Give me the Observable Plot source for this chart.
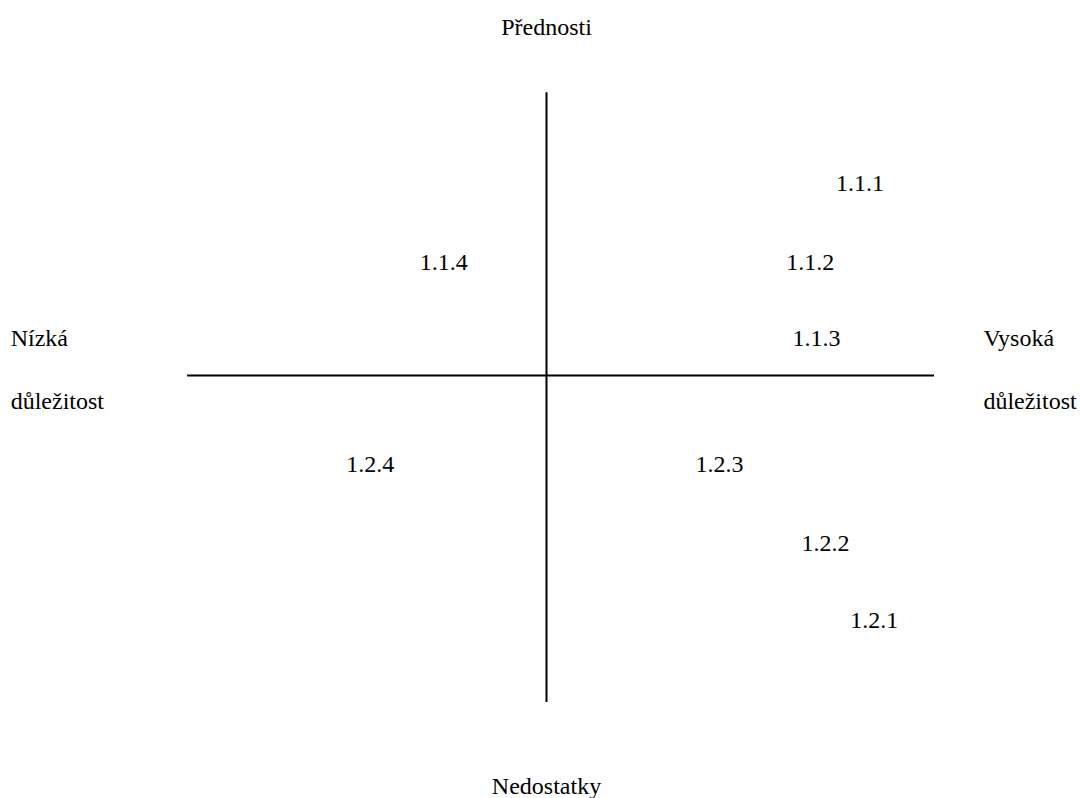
<!DOCTYPE html>
<html>
<head>
<meta charset="utf-8">
<script src="https://cdn.jsdelivr.net/npm/d3@7"></script>
<script src="https://cdn.jsdelivr.net/npm/@observablehq/plot@0.6"></script>
<style>
  html, body { margin: 0; padding: 0; background: #fff; }
  #chart svg { display: block; }
</style>
</head>
<body>
<div id="chart"></div>
<script>
// Items: label, importance (x), pros(+)/cons(-) (y)
const itemLabels = ["1.1.1", "1.1.2", "1.1.3", "1.1.4", "1.2.1", "1.2.2", "1.2.3", "1.2.4"];
const itemImportance = [8.08, 6.80, 6.96, -2.65, 8.45, 7.19, 4.46, -4.54];
const itemQuality = [5.89, 3.46, 1.15, 3.46, -7.49, -5.14, -2.72, -2.72];

// Axis extents
const importanceAxisExtent = [-9.25, 10];
const qualityAxisExtent = [-10, 8.65];

// Axis titles
const topTitle = "Přednosti";
const bottomTitle = "Nedostatky";
const leftTitle = ["Nízká", "důležitost"];
const rightTitle = ["Vysoká", "důležitost"];

const items = itemLabels.map((label, i) => ({label, x: itemImportance[i], y: itemQuality[i]}));

// pick an installed serif font
function available(name) {
  const c = document.createElement("canvas").getContext("2d");
  const s = "mmmmmmmmmmlliiWWŘžů1.2.3";
  return ["monospace", "sans-serif"].some(fb => {
    c.font = `40px ${fb}`;
    const w0 = c.measureText(s).width;
    c.font = `40px "${name}", ${fb}`;
    return c.measureText(s).width !== w0;
  });
}
const candidates = ["Liberation Serif", "Times New Roman", "Tinos", "Nimbus Roman", "DejaVu Serif", "Noto Serif"];
const font = (candidates.find(available) || "serif");

const chart = Plot.plot({
  width: 1080,
  height: 798,
  marginLeft: 158,
  marginRight: 146,
  marginTop: 48,
  marginBottom: 96,
  x: {domain: [-10, 10], axis: null},
  y: {domain: [-10, 10], axis: null},
  style: {fontSize: "24px", fontFamily: `"${font}", serif`, color: "#000", background: "#fff"},
  marks: [
    Plot.ruleY([0], {x1: importanceAxisExtent[0], x2: importanceAxisExtent[1], stroke: "#000", strokeWidth: 2}),
    Plot.ruleX([0], {y1: qualityAxisExtent[0], y2: qualityAxisExtent[1], stroke: "#000", strokeWidth: 2}),
    Plot.text(items, {x: "x", y: "y", text: "label", fontSize: 24, fontFamily: font, fill: "#000"}),
    Plot.text([topTitle], {x: 0, y: 10.64, text: d => d, fontSize: 24, fontFamily: font, fill: "#000"}),
    Plot.text([bottomTitle], {x: 0, y: -12.57, text: d => d, fontSize: 24, fontFamily: font, fill: "#000"}),
    Plot.text(leftTitle, {x: -13.81, y: (d, i) => [1.13, -0.80][i], text: d => d, textAnchor: "start", fontSize: 24, fontFamily: font, fill: "#000"}),
    Plot.text(rightTitle, {x: 11.26, y: (d, i) => [1.13, -0.80][i], text: d => d, textAnchor: "start", fontSize: 24, fontFamily: font, fill: "#000"})
  ]
});

document.getElementById("chart").appendChild(chart);
</script>
</body>
</html>
